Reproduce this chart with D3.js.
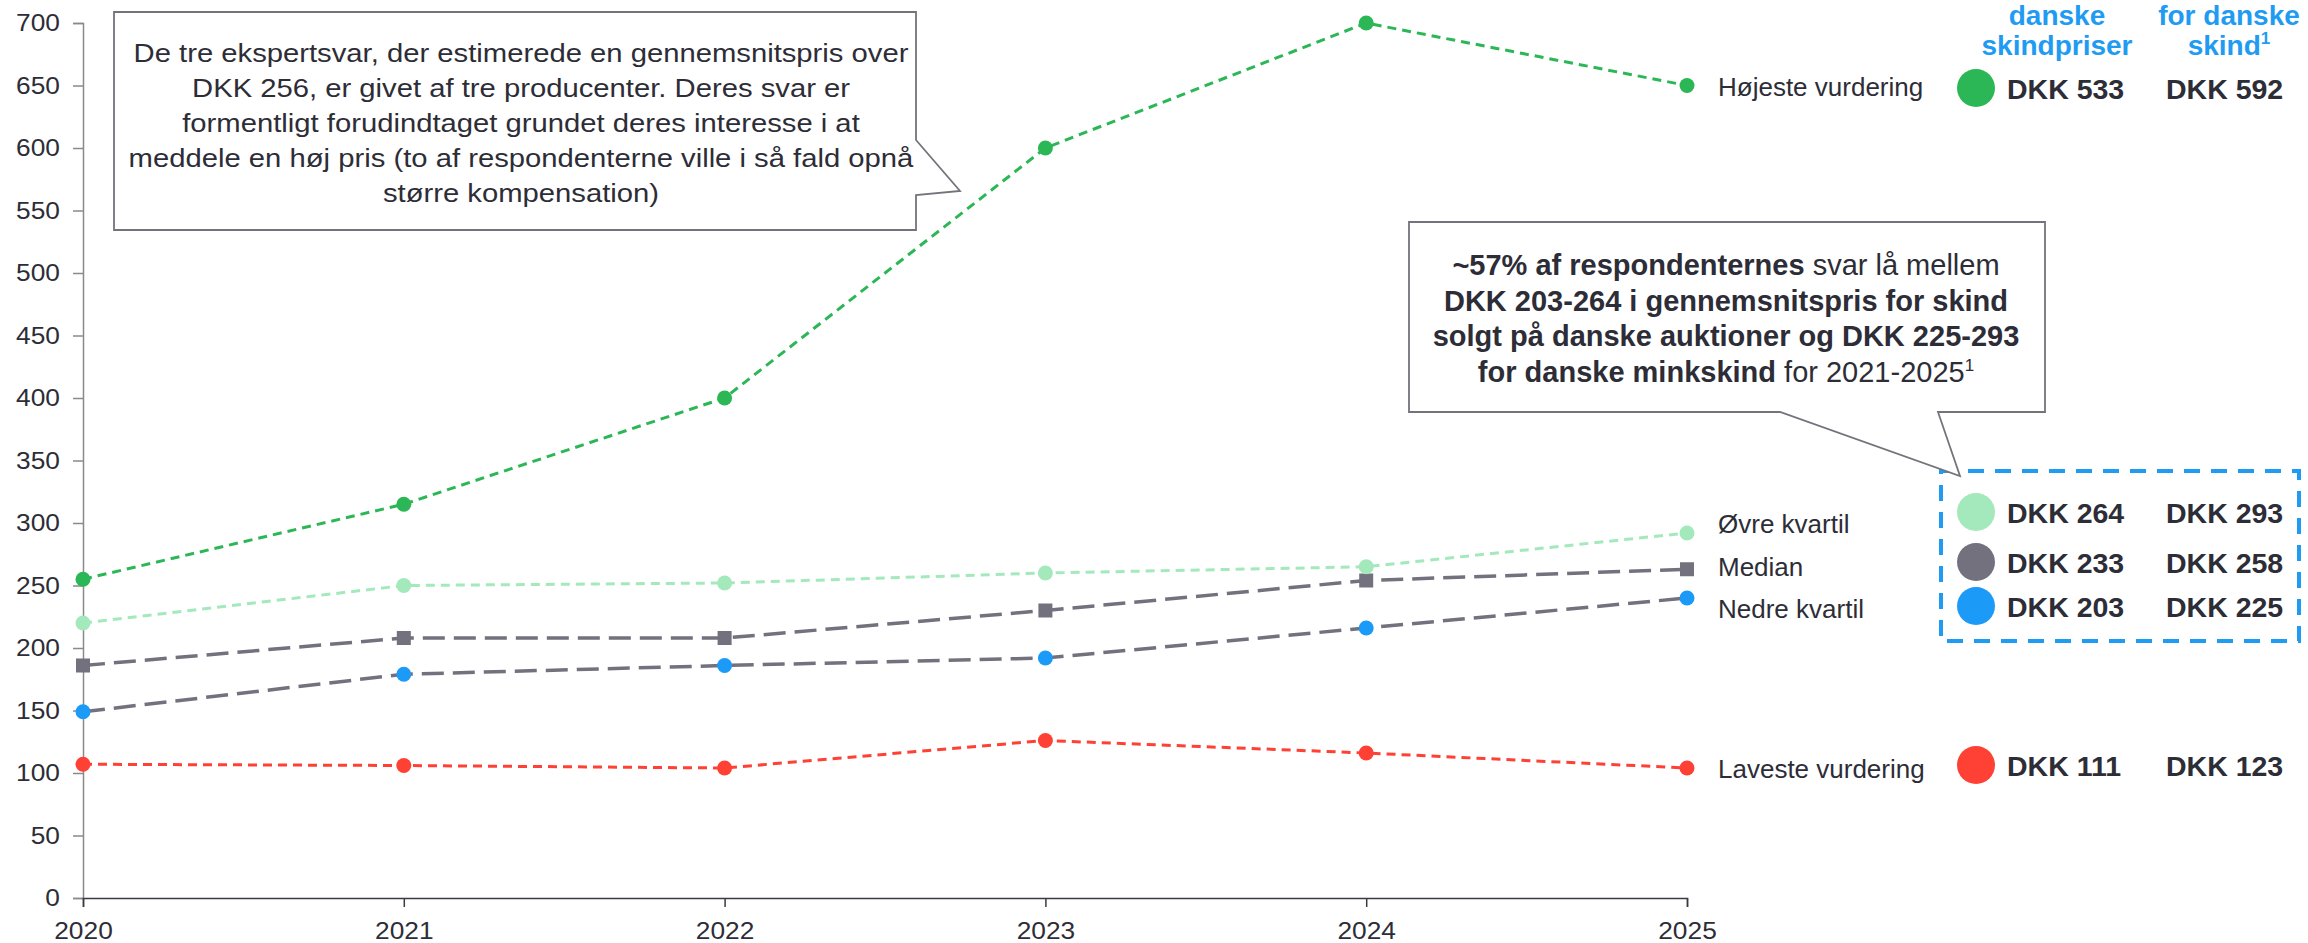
<!DOCTYPE html>
<html>
<head>
<meta charset="utf-8">
<script src="https://cdn.jsdelivr.net/npm/d3@7"></script>
<style>
  html, body { margin: 0; padding: 0; background: #ffffff; }
  svg { display: block; font-family: "Liberation Sans", Arial, sans-serif; }
</style>
</head>
<body>
<svg id="chart" width="2308" height="943"></svg>
<script>
// ---------------- DATA ----------------
const years = [2020, 2021, 2022, 2023, 2024, 2025];
const yTicks = [0, 50, 100, 150, 200, 250, 300, 350, 400, 450, 500, 550, 600, 650, 700];

const hojeste = [255, 315, 400, 600, 700, 650];
const ovreKvartil = [220, 250, 252, 260, 265, 292];
const median = [186, 208, 208, 230, 254, 263];
const nedreKvartil = [149, 179, 186, 192, 216, 240];
const laveste = [107, 106, 104, 126, 116, 104];

const seriesNames = ["Højeste vurdering", "Øvre kvartil", "Median", "Nedre kvartil", "Laveste vurdering"];
const avgSkindpriser = [533, 264, 233, 203, 111];
const avgDanskeSkind = [592, 293, 258, 225, 123];

const headerCol1 = ["danske", "skindpriser"];
const headerCol2 = ["for danske", "skind"];

const note1Lines = [
  "De tre ekspertsvar, der estimerede en gennemsnitspris over",
  "DKK 256, er givet af tre producenter. Deres svar er",
  "formentligt forudindtaget grundet deres interesse i at",
  "meddele en høj pris (to af respondenterne ville i så fald opnå",
  "større kompensation)"
];
// each line: list of [text, bold]
const note2Lines = [
  [["~57% af respondenternes", true], [" svar lå mellem", false]],
  [["DKK 203-264 i gennemsnitspris for skind", true]],
  [["solgt på danske auktioner og DKK 225-293", true]],
  [["for danske minkskind", true], [" for 2021-2025", false]]
];

// ---------------- STYLE ----------------
const C = {
  text: "#2d2d37",
  green: "#2bb756",
  lightGreen: "#a4e9bc",
  gray: "#72717d",
  blue: "#1b9af7",
  red: "#ff4034",
  header: "#1f9cf2",
  axisY: "#8a8a8a",
  axisX: "#3a3a44",
  boxStroke: "#74737c"
};

const svg = d3.select("#chart");
const x = d3.scaleLinear().domain([2020, 2025]).range([83, 1687]);
const y = d3.scaleLinear().domain([0, 700]).range([898, 23]);

// ---------------- AXES ----------------
const AX_SCALE = 1.12;
const yAxis = svg.append("g").attr("transform", `translate(${x(2020)},0)`)
  .call(d3.axisLeft(y).tickValues(yTicks).tickSize(10).tickPadding(13).tickFormat(d3.format("d")));
yAxis.select(".domain").attr("stroke", C.axisY).attr("stroke-width", 1.5);
yAxis.selectAll(".tick line").attr("stroke", C.axisY).attr("stroke-width", 1.5);
yAxis.selectAll(".tick text")
  .attr("fill", C.text).attr("font-size", 23.5)
  .attr("x", -23 / AX_SCALE)
  .attr("transform", `scale(${AX_SCALE},1)`);

const xAxis = svg.append("g").attr("transform", `translate(0,${y(0)})`)
  .call(d3.axisBottom(x).tickValues(years).tickSize(9).tickPadding(15).tickFormat(d3.format("d")));
xAxis.select(".domain").attr("stroke", C.axisX).attr("stroke-width", 1.5);
xAxis.selectAll(".tick line").attr("stroke", C.axisX).attr("stroke-width", 1.5);
xAxis.selectAll(".tick text")
  .attr("fill", C.text).attr("font-size", 23.5)
  .attr("transform", `scale(${AX_SCALE},1)`);

// ---------------- LINES ----------------
const lineGen = d3.line().x((d, i) => x(years[i])).y(d => y(d));
const lines = [
  { data: laveste, stroke: C.red, dash: "9,6", width: 3, marker: "circle", fill: C.red },
  { data: nedreKvartil, stroke: C.gray, dash: "22,9", width: 3.5, marker: "circle", fill: C.blue },
  { data: median, stroke: C.gray, dash: "22,9", width: 3.5, marker: "square", fill: C.gray },
  { data: ovreKvartil, stroke: C.lightGreen, dash: "9,6", width: 3, marker: "circle", fill: C.lightGreen },
  { data: hojeste, stroke: C.green, dash: "9,6", width: 3, marker: "circle", fill: C.green }
];
lines.forEach(s => {
  svg.append("path").datum(s.data)
    .attr("d", lineGen).attr("fill", "none")
    .attr("stroke", s.stroke).attr("stroke-width", s.width)
    .attr("stroke-dasharray", s.dash);
  const g = svg.append("g");
  if (s.marker === "circle") {
    g.selectAll("circle").data(s.data).join("circle")
      .attr("cx", (d, i) => x(years[i])).attr("cy", d => y(d))
      .attr("r", 7.5).attr("fill", s.fill);
  } else {
    g.selectAll("rect").data(s.data).join("rect")
      .attr("x", (d, i) => x(years[i]) - 7).attr("y", d => y(d) - 7)
      .attr("width", 14).attr("height", 14).attr("fill", s.fill);
  }
});

// ---------------- SERIES LABELS (right of plot) ----------------
const lastVals = [hojeste[5], ovreKvartil[5], median[5], nedreKvartil[5], laveste[5]];
const labelOffsets = [10, 0, 7, 20, 10];
seriesNames.forEach((name, i) => {
  svg.append("text")
    .attr("x", 1718).attr("y", y(lastVals[i]) + labelOffsets[i])
    .attr("font-size", 26).attr("fill", C.text)
    .text(name);
});

// ---------------- RIGHT TABLE ----------------
const headG = svg.append("g").attr("font-weight", "bold").attr("font-size", 28)
  .attr("fill", C.header).attr("text-anchor", "middle");
headerCol1.forEach((t, i) => headG.append("text").attr("x", 2057).attr("y", 25 + i * 30).text(t));
headerCol2.forEach((t, i) => {
  const tx = headG.append("text").attr("x", 2229).attr("y", 25 + i * 30).text(t);
  if (i === headerCol2.length - 1) {
    tx.append("tspan").attr("font-size", 17).attr("dy", -11).text("1");
  }
});

const rowY = [88, 512, 562, 606, 765];
const rowColors = [C.green, C.lightGreen, C.gray, C.blue, C.red];
rowY.forEach((ry, i) => {
  svg.append("circle").attr("cx", 1976).attr("cy", ry).attr("r", 19).attr("fill", rowColors[i]);
  svg.append("text").attr("x", 2007).attr("y", ry + 11)
    .attr("font-size", 28.5).attr("font-weight", "bold").attr("fill", C.text)
    .text("DKK " + avgSkindpriser[i]);
  svg.append("text").attr("x", 2166).attr("y", ry + 11)
    .attr("font-size", 28.5).attr("font-weight", "bold").attr("fill", C.text)
    .text("DKK " + avgDanskeSkind[i]);
});

// dashed highlight box
svg.append("rect")
  .attr("x", 1941).attr("y", 471).attr("width", 358).attr("height", 170)
  .attr("fill", "none").attr("stroke", C.header).attr("stroke-width", 4)
  .attr("stroke-dasharray", "16,11");

// ---------------- CALLOUT 1 ----------------
svg.append("path")
  .attr("d", "M114,12 H916 V140 L960,191 L916,195 V230 H114 Z")
  .attr("fill", "#fff").attr("stroke", C.boxStroke).attr("stroke-width", 1.8);
const n1 = svg.append("g").attr("font-size", 25).attr("fill", C.text).attr("text-anchor", "middle");
note1Lines.forEach((t, i) => {
  n1.append("text")
    .attr("transform", `translate(521,${62 + i * 35}) scale(1.17,1)`)
    .text(t);
});

// ---------------- CALLOUT 2 ----------------
svg.append("path")
  .attr("d", "M1409,222 H2045 V412 H1938 L1960,476 L1780,412 H1409 Z")
  .attr("fill", "#fff").attr("stroke", C.boxStroke).attr("stroke-width", 1.8);
const n2 = svg.append("g").attr("font-size", 29).attr("fill", C.text).attr("text-anchor", "middle");
note2Lines.forEach((parts, i) => {
  const t = n2.append("text").attr("x", 1726).attr("y", 275 + i * 35.6);
  parts.forEach(([s, b]) => t.append("tspan").attr("font-weight", b ? "bold" : "normal").text(s));
  if (i === note2Lines.length - 1) {
    t.append("tspan").attr("font-size", 17).attr("dy", -11).text("1");
  }
});
</script>
</body>
</html>
